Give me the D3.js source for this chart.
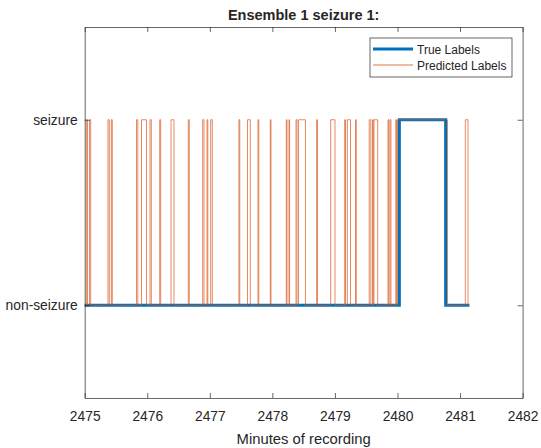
<!DOCTYPE html>
<html>
<head>
<meta charset="utf-8">
<script src="https://cdn.jsdelivr.net/npm/d3@7"></script>
<style>
  body { margin: 0; background: #fff; }
  text { font-family: "Liberation Sans", Arial, sans-serif; fill: #262626; }
</style>
</head>
<body>
<svg id="chart" width="541" height="448"></svg>
<script>
// Data (minutes of recording)
var xTicks = [2475, 2476, 2477, 2478, 2479, 2480, 2481, 2482];
var yTickValues = [0, 1];
var yTickLabels = ["non-seizure", "seizure"];

// true labels: change points and value after each point
var trueTimes = [2475.0, 2480.03, 2480.77, 2481.15];
var trueValues = [0, 1, 0, 0];

// predicted labels: seizure intervals (on / off times)
var predOn = [2475.026, 2475.077, 2475.372, 2475.425, 2475.828, 2475.908, 2476.044, 2476.199,
    2476.380, 2476.656, 2476.886, 2476.955, 2477.014, 2477.466, 2477.602, 2477.770, 2477.967,
    2478.223, 2478.266, 2478.378, 2478.418, 2478.708, 2478.932, 2479.156, 2479.198, 2479.329,
    2479.548, 2479.600, 2479.624, 2479.848, 2479.880, 2479.973, 2480.000, 2481.084];
var predOff = [2475.045, 2475.096, 2475.393, 2475.441, 2475.849, 2475.988, 2476.065, 2476.215,
    2476.427, 2476.672, 2476.907, 2476.968, 2477.040, 2477.479, 2477.647, 2477.783, 2477.978,
    2478.234, 2478.275, 2478.394, 2478.529, 2478.721, 2479.001, 2479.169, 2479.249, 2479.341,
    2479.573, 2479.612, 2479.684, 2479.861, 2479.896, 2479.984, 2480.799, 2481.127];
var recordStart = 2475.0, recordEnd = 2481.15;

var box = {left: 84.7, right: 522.6, top: 27, bottom: 398};
var svg = d3.select("#chart");

var x = d3.scaleLinear().domain([2475, 2482]).range([box.left, box.right]);
var y = d3.scaleLinear().domain([-0.5, 1.5]).range([box.bottom, box.top]);

// build step series
var truePts = trueTimes.map(function (t, i) { return {t: t, v: trueValues[i]}; });
var predPts = [{t: recordStart, v: 0}];
predOn.forEach(function (on, i) {
    predPts.push({t: on, v: 1});
    predPts.push({t: predOff[i], v: 0});
});
predPts.push({t: recordEnd, v: 0});

var line = d3.line()
    .x(function (d) { return x(d.t); })
    .y(function (d) { return y(d.v); })
    .curve(d3.curveStepAfter);

var plot = svg.append("g");
plot.append("path")
    .datum(truePts)
    .attr("d", line)
    .attr("fill", "none")
    .attr("stroke", "#0072BD")
    .attr("stroke-width", 3);

plot.append("path")
    .datum(predPts)
    .attr("d", line)
    .attr("fill", "none")
    .attr("stroke", "#D95319")
    .attr("stroke-width", 0.8)
    .attr("stroke-opacity", 0.85);

// axes (MATLAB style box with inward ticks)
var axisColor = "#262626";
var tickLen = 5;

var xBottom = svg.append("g")
    .attr("transform", "translate(0," + box.bottom + ")")
    .call(d3.axisBottom(x).tickValues(xTicks).tickSizeInner(-tickLen).tickSizeOuter(0).tickPadding(13)
        .tickFormat(d3.format("d")));
var xTop = svg.append("g")
    .attr("transform", "translate(0," + box.top + ")")
    .call(d3.axisTop(x).tickValues(xTicks).tickSizeInner(-tickLen).tickSizeOuter(0).tickFormat(""));
var yLeft = svg.append("g")
    .attr("transform", "translate(" + box.left + ",0)")
    .call(d3.axisLeft(y).tickValues(yTickValues).tickSizeInner(-tickLen).tickSizeOuter(0).tickPadding(7)
        .tickFormat(function (d, i) { return yTickLabels[i]; }));
var yRight = svg.append("g")
    .attr("transform", "translate(" + box.right + ",0)")
    .call(d3.axisRight(y).tickValues(yTickValues).tickSizeInner(-tickLen).tickSizeOuter(0).tickFormat(""));

[xBottom, xTop, yLeft, yRight].forEach(function (g) {
    g.select(".domain").attr("stroke", axisColor).attr("stroke-width", 0.7);
    g.selectAll(".tick line").attr("stroke", axisColor).attr("stroke-width", 0.7);
    g.selectAll(".tick text")
        .style("font-family", "'Liberation Sans', Arial, sans-serif")
        .style("font-size", "13.8px")
        .attr("fill", axisColor);
});

// title and axis label
svg.append("text")
    .attr("x", (box.left + box.right) / 2)
    .attr("y", 20)
    .attr("text-anchor", "middle")
    .style("font-size", "14.5px")
    .style("font-weight", "bold")
    .text("Ensemble 1 seizure 1:");

svg.append("text")
    .attr("x", (box.left + box.right) / 2)
    .attr("y", 444)
    .attr("text-anchor", "middle")
    .style("font-size", "14.8px")
    .text("Minutes of recording");

// legend
var legend = svg.append("g").attr("transform", "translate(370,38)");
legend.append("rect")
    .attr("x", 0).attr("y", 0)
    .attr("width", 142).attr("height", 39)
    .attr("fill", "#fff")
    .attr("stroke", axisColor)
    .attr("stroke-width", 0.7);
var legendItems = [
    {label: "True Labels", color: "#0072BD", width: 3},
    {label: "Predicted Labels", color: "#D95319", width: 0.8}
];
legendItems.forEach(function (d, i) {
    var ly = 11 + i * 16;
    legend.append("line")
        .attr("x1", 3).attr("x2", 43)
        .attr("y1", ly).attr("y2", ly)
        .attr("stroke", d.color)
        .attr("stroke-width", d.width);
    legend.append("text")
        .attr("x", 47).attr("y", ly + 4.5)
        .style("font-size", "12px")
        .text(d.label);
});
</script>
</body>
</html>
